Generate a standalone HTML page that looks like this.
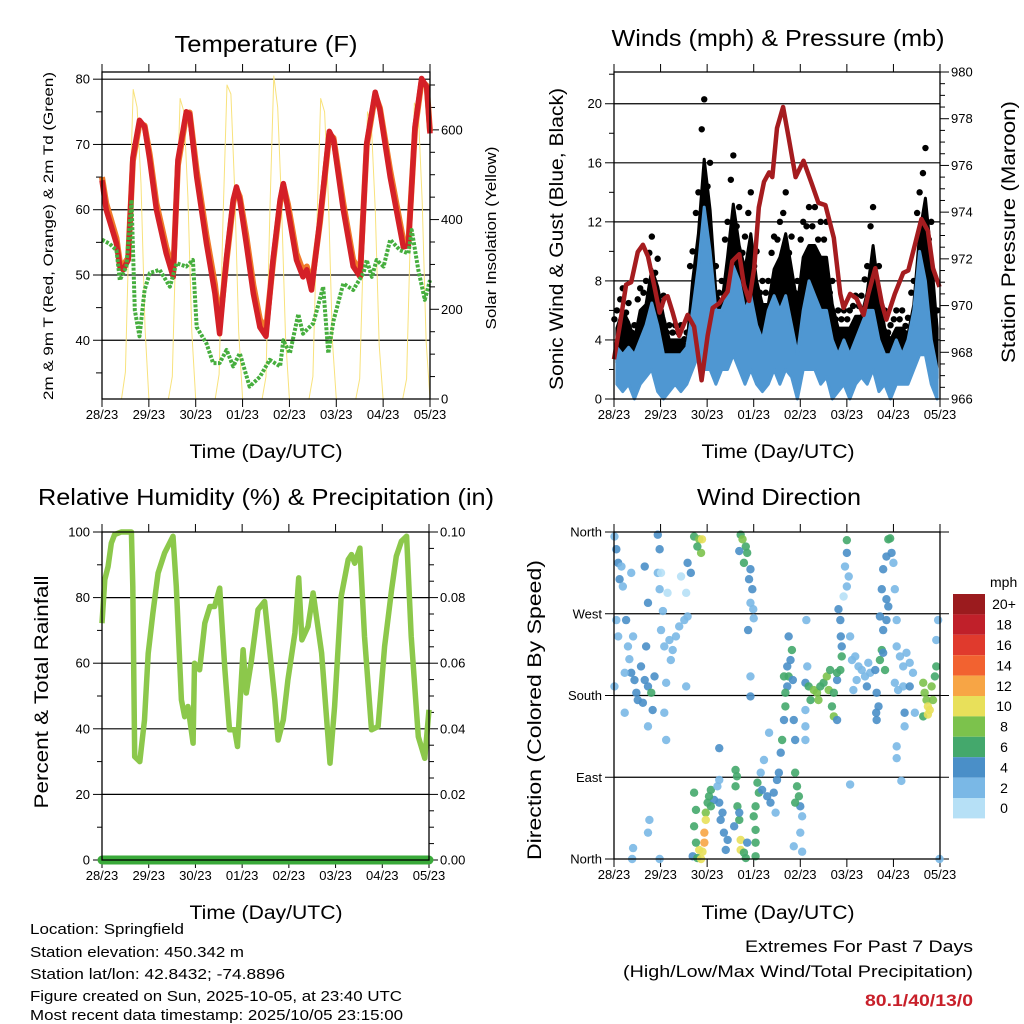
<!DOCTYPE html>
<html><head><meta charset="utf-8">
<style>
html,body{margin:0;padding:0;background:#fff;}
svg{display:block;font-family:"Liberation Sans",Arial,sans-serif;}
</style></head>
<body>
<svg id="chart" width="1024" height="1024" viewBox="0 0 1024 1024" xmlns="http://www.w3.org/2000/svg">
<rect x="0" y="0" width="1024" height="1024" fill="#fff"/>
<text x="266" y="52" font-size="23" text-anchor="middle" textLength="183" lengthAdjust="spacingAndGlyphs">Temperature (F)</text>
<text x="778" y="46" font-size="23" text-anchor="middle" textLength="333" lengthAdjust="spacingAndGlyphs">Winds (mph) &amp; Pressure (mb)</text>
<text x="266" y="505" font-size="23" text-anchor="middle" textLength="456" lengthAdjust="spacingAndGlyphs">Relative Humidity (%) &amp; Precipitation (in)</text>
<text x="779" y="505" font-size="23" text-anchor="middle" textLength="164" lengthAdjust="spacingAndGlyphs">Wind Direction</text>
<text x="266" y="458" font-size="19" text-anchor="middle" textLength="153" lengthAdjust="spacingAndGlyphs">Time (Day/UTC)</text>
<text x="778" y="458" font-size="19" text-anchor="middle" textLength="153" lengthAdjust="spacingAndGlyphs">Time (Day/UTC)</text>
<text x="266" y="919" font-size="19" text-anchor="middle" textLength="153" lengthAdjust="spacingAndGlyphs">Time (Day/UTC)</text>
<text x="778" y="919" font-size="19" text-anchor="middle" textLength="153" lengthAdjust="spacingAndGlyphs">Time (Day/UTC)</text>
<text transform="translate(53,236) rotate(-90)" font-size="14" text-anchor="middle" textLength="328" lengthAdjust="spacingAndGlyphs">2m &amp; 9m T (Red, Orange) &amp; 2m Td (Green)</text>
<text transform="translate(496,238) rotate(-90)" font-size="15" text-anchor="middle" textLength="183" lengthAdjust="spacingAndGlyphs">Solar Insolation (Yellow)</text>
<text transform="translate(563,239) rotate(-90)" font-size="19" text-anchor="middle" textLength="302" lengthAdjust="spacingAndGlyphs">Sonic Wind &amp; Gust (Blue, Black)</text>
<text transform="translate(1015,232) rotate(-90)" font-size="19" text-anchor="middle" textLength="262" lengthAdjust="spacingAndGlyphs">Station Pressure (Maroon)</text>
<text transform="translate(48,692) rotate(-90)" font-size="19" text-anchor="middle" textLength="233" lengthAdjust="spacingAndGlyphs">Percent &amp; Total Rainfall</text>
<text transform="translate(541,710) rotate(-90)" font-size="19" text-anchor="middle" textLength="300" lengthAdjust="spacingAndGlyphs">Direction (Colored By Speed)</text>
<g font-size="15">
<text x="30" y="934" textLength="154" lengthAdjust="spacingAndGlyphs">Location: Springfield</text>
<text x="30" y="957" textLength="214" lengthAdjust="spacingAndGlyphs">Station elevation: 450.342 m</text>
<text x="30" y="979" textLength="255" lengthAdjust="spacingAndGlyphs">Station lat/lon: 42.8432; -74.8896</text>
<text x="30" y="1001" textLength="372" lengthAdjust="spacingAndGlyphs">Figure created on Sun, 2025-10-05, at 23:40 UTC</text>
<text x="30" y="1020" textLength="373" lengthAdjust="spacingAndGlyphs">Most recent data timestamp: 2025/10/05 23:15:00</text>
</g>
<text x="973" y="952" font-size="17" text-anchor="end" textLength="228" lengthAdjust="spacingAndGlyphs">Extremes For Past 7 Days</text>
<text x="973" y="977" font-size="17" text-anchor="end" textLength="350" lengthAdjust="spacingAndGlyphs">(High/Low/Max Wind/Total Precipitation)</text>
<text x="973" y="1006" font-size="17" font-weight="bold" fill="#c8202a" text-anchor="end" textLength="108" lengthAdjust="spacingAndGlyphs">80.1/40/13/0</text>
<g id="layer"></g>
</svg>
<script>
const dayLabels = ["28/23","29/23","30/23","01/23","02/23","03/23","04/23","05/23"];
const tempDays  = [0,0.09,0.31,0.38,0.45,0.56,0.66,0.80,0.91,1.02,1.16,1.37,1.52,1.62,1.80,1.87,2.02,2.23,2.41,2.51,2.66,2.80,2.87,2.94,3.08,3.23,3.37,3.50,3.65,3.80,3.87,3.97,4.15,4.29,4.37,4.47,4.65,4.85,4.94,5.15,5.36,5.51,5.65,5.83,5.93,6.15,6.43,6.54,6.68,6.82,6.93,7.0];
const temp2m    = [64.5,60,54.8,51.3,50.8,52.3,68,73.7,72.7,67.6,60,53.3,49.7,67.6,75,74.7,65,54.8,47.2,41,52.8,61.5,63.5,61.5,54.8,47.2,42,40.6,52.3,61.5,64,60,52.3,49.7,50.8,47.7,58.4,72,70.7,60,51.3,49.7,70.2,78,75.3,65,54.3,54.5,72.7,80.1,78.8,71.7];
const temp9m    = [65,61,55.6,52,51.5,52.6,67.5,73.2,72.9,68.4,61,54.3,50.5,66.8,74.6,74.9,66,56,48.6,42.3,52.3,61,63.2,62,56,48.5,43.2,41.6,51.8,61,63.8,60.8,53.3,50.6,51.3,48.3,58,71.6,71,61,52.3,50.5,69.8,77.6,75.6,66,55.3,55,72.3,79.7,79,72];
const dewDays   = [0,0.16,0.31,0.38,0.52,0.63,0.70,0.80,0.91,1.02,1.23,1.45,1.59,1.80,1.94,2.02,2.23,2.37,2.51,2.66,2.80,2.94,3.15,3.37,3.58,3.80,3.87,4.01,4.19,4.29,4.51,4.72,4.83,4.94,5.15,5.36,5.58,5.65,5.76,5.86,6.01,6.15,6.36,6.54,6.61,6.75,6.89,7.0];
const dew2m     = [55.4,54.8,53.8,49.2,51.3,61.5,44.6,40.6,47.7,50.3,50.8,48.2,51.8,51.3,52.3,42,39.5,36.5,36.5,38.5,36,38,32.9,34.4,37,36,40,38,44,41,42.6,48.2,38,43,48.7,47.7,50.3,52.3,49.7,52.3,51.3,55.4,53.8,53.3,56.9,50.8,46.2,49.2];
const solar = [
 0,0,0,0,0,0,60,400,690,650,480,160,
 0,0,0,0,0,0,50,380,670,640,450,150,
 0,0,0,0,0,0,55,400,700,680,460,150,
 0,0,0,0,0,0,50,420,720,650,430,140,
 0,0,0,0,0,0,50,380,670,640,440,130,
 0,0,0,0,0,0,45,350,640,610,420,120,
 0,0,0,0,0,0,45,380,660,640,440,130,0];
const tempTicks  = [40,50,60,70,80];
const solarTicks = [0,200,400,600];
const windLow  = [1,0.5,1,0,1,1.5,2,0.5, 0,0.5,1,0.5,1,2,3,2, 2,1,2,2,3,2,1,2, 1,0.5,1,2,1,2,1.5,0, 2,2,2,1,1.5,0,0.5,1, 0,1,1.5,1,2,0.5,1,0, 1,1,1,2,3,3,1,0];
const windHigh = [3.5,3,3.5,3,4,5,6.5,5, 3,3,3,3,3.5,6,9,13, 10,6,6,7,9,8,6,7, 5,4,6,7,6,7,5,3, 6,8,7,6,6,4,3,4, 3,4,5,6,6,4,3,3, 4,3,4,6,10,8,4,2];
const gustHigh = [6,7.5,6.5,5,7.5,8,11,9.5, 7,5,5,5,4.5,10,14,20.3, 16,9,8,12,16.5,13,11,14, 10,8,8,11,12,14,11,8, 12,13,13,12,12,8,6,6, 6,7,7,9,13,9,6,5, 6,6,5.5,8,14,17,12,6];
const presDays = [0,0.12,0.26,0.37,0.51,0.62,0.73,0.87,0.98,1.08,1.15,1.26,1.40,1.58,1.72,1.88,2.01,2.12,2.26,2.44,2.54,2.69,2.79,2.90,3.01,3.11,3.22,3.33,3.40,3.50,3.63,3.75,3.90,4.07,4.25,4.39,4.54,4.72,4.86,4.93,5.07,5.21,5.36,5.46,5.61,5.75,5.85,6.03,6.21,6.32,6.46,6.60,6.74,6.85,6.99];
const pressure = [967.7,969.1,970.9,971.0,972.3,972.6,972.1,970.8,969.7,970.3,970.4,969.7,968.7,969.6,969.1,966.8,968.7,969.9,970.1,970.6,971.9,972.2,970.9,970.2,971.6,974.2,975.3,975.7,975.5,977.6,978.5,977.2,975.5,976.2,975.2,974.4,974.3,972.9,970.5,969.9,970.5,970.3,969.6,970.5,971.6,970.1,969.4,970.5,971.4,971.5,972.6,973.7,973.2,971.6,970.8];
const windTicks = [0,4,8,12,16,20];
const presTicks = [966,968,970,972,974,976,978,980];
const rhDays = [0,0.06,0.13,0.2,0.27,0.41,0.63,0.66,0.70,0.81,0.91,0.99,1.09,1.2,1.34,1.52,1.59,1.70,1.77,1.84,1.95,1.98,2.09,2.2,2.31,2.41,2.52,2.63,2.73,2.84,2.9,3.02,3.09,3.2,3.34,3.48,3.7,3.77,3.88,3.98,4.13,4.21,4.28,4.41,4.52,4.7,4.88,4.98,5.12,5.27,5.34,5.41,5.52,5.62,5.77,5.91,6.05,6.2,6.3,6.41,6.52,6.62,6.77,6.91,7.0];
const rh = [72.2,85.5,89.5,96.6,99.2,100,100,83.4,31.5,30,42.7,63,75.3,87.5,93.6,98.7,83.4,48.8,43.7,46.8,35.6,60,58,72.2,77.3,77.3,82.9,58,39.7,39.7,34.6,64.1,50.9,61,76.3,78.8,48.8,36.6,42.7,54.9,69.2,86,67.1,71.2,81.4,63.1,29.5,46.8,80.4,91.6,93.1,90.5,95.1,68.2,39.7,40.7,65.1,82.4,92.6,97.2,98.7,68.2,37.6,31,45.8];
const precipDays = [0,7];
const precip = [0,0];
const rhTicks = [0,20,40,60,80,100];
const precipTicks = ["0.00","0.02","0.04","0.06","0.08","0.10"];
const dirDays = [0.01,0.05,0.09,0.12,0.16,0.19,0.05,0.09,0.01,0.26,0.30,0.33,0.37,0.44,0.48,0.51,0.41,0.23,0.23,0.58,0.66,0.73,0.80,0.87,0.69,0.62,0.83,0.73,0.66,0.73,0.37,0.94,0.98,0.94,0.98,1.05,1.12,1.08,1.12,1.01,1.08,1.19,1.26,1.33,1.40,1.51,1.58,1.22,1.01,1.15,1.44,1.55,1.55,1.58,1.65,1.72,1.83,1.89,1.87,1.79,1.72,1.76,1.72,1.97,1.97,2.01,1.94,1.94,1.83,1.90,1.76,1.69,1.79,1.87,2.08,2.15,2.22,2.26,2.29,2.36,2.33,2.44,2.40,2.26,2.04,2.08,2.61,2.64,2.61,2.65,2.69,2.72,2.72,2.79,2.83,2.69,2.58,3.04,3.04,3.04,2.86,3.00,2.72,2.76,2.83,2.86,2.93,2.90,2.97,2.93,2.99,3.00,2.69,2.79,2.88,2.93,3.08,3.11,3.18,3.29,3.36,3.43,3.50,3.15,3.22,3.33,3.04,3.47,3.54,3.58,3.61,3.65,3.68,3.72,3.75,3.72,3.79,3.75,3.82,3.68,3.86,3.89,3.65,3.84,3.89,3.93,3.97,4.00,4.04,4.00,4.04,3.86,3.89,4.11,4.18,4.29,4.36,4.43,4.50,4.57,4.61,4.72,4.79,4.86,4.89,4.72,4.68,4.79,4.15,4.11,4.11,4.11,4.22,4.39,4.64,4.79,4.82,4.86,4.87,4.89,4.93,5.00,5.00,5.00,4.96,5.04,5.07,5.07,4.13,2.93,5.11,5.18,5.25,5.32,5.39,5.46,5.43,5.50,5.21,5.14,5.61,5.64,5.68,5.71,5.75,5.78,5.82,5.71,5.78,5.85,5.85,5.75,5.78,5.85,5.89,5.93,5.96,6.00,6.03,5.89,5.64,5.63,6.07,6.14,6.21,6.28,6.35,6.42,6.21,6.10,6.03,6.35,6.24,6.24,6.07,6.07,6.17,6.46,6.07,6.64,6.67,6.71,6.74,6.78,6.85,6.82,6.89,6.92,6.64,6.74,6.92,6.96,6.99,0.76,0.73,0.41,0.39,0.98,2.26];
const dirDegs = [355,341,326,308,322,300,263,245,190,263,234,220,205,197,183,175,245,205,161,212,197,190,183,201,234,172,164,146,322,282,315,357,341,315,297,273,194,161,131,252,234,241,230,245,256,263,267,219,315,293,311,293,190,326,315,355,352,352,337,344,73,54,36,51,43,62,29,18,10,8,18,3,1,0,76,65,80,87,43,29,51,21,10,62,69,58,98,91,80,58,43,21,10,7,1,51,36,32,18,3,18,47,357,352,344,337,319,308,297,282,275,265,339,326,252,179,84,73,76,69,62,73,87,95,109,139,58,51,95,117,131,153,168,190,201,212,219,245,230,183,153,131,201,197,95,80,69,58,47,29,8,14,62,194,190,186,183,190,194,201,186,183,197,208,223,157,168,153,212,164,146,131,175,175,208,205,275,263,245,234,289,300,337,351,322,311,245,82,263,201,219,223,212,208,201,216,190,205,197,186,208,183,168,219,230,227,208,267,252,263,286,297,319,333,352,353,337,326,297,278,153,161,234,223,212,227,216,205,190,186,194,190,161,146,124,111,86,161,263,194,183,175,168,164,175,190,201,212,157,159,241,263,0,43,29,12,0,0,122];
const dirSpeeds = [2,4,4,4,2,2,2,2,2,4,2,2,4,4,4,4,2,2,2,4,4,4,6,4,4,4,4,2,4,4,2,4,4,2,2,2,2,2,2,2,2,2,2,2,2,2,2,2,0,0,0,0,2,4,4,6,8,10,8,6,6,6,6,8,10,6,12,12,10,10,6,4,6,10,6,4,2,2,4,4,4,4,4,4,6,6,6,6,6,6,6,10,10,6,6,4,4,6,6,6,4,6,6,8,6,6,4,4,4,2,2,2,4,6,4,4,6,6,4,4,4,4,4,2,2,2,6,2,4,4,6,4,6,4,6,4,4,4,6,6,4,4,6,4,6,6,6,4,2,2,2,2,6,4,6,8,8,6,6,8,8,6,4,6,6,8,6,4,2,2,2,2,6,8,6,6,4,4,4,4,0,2,4,6,2,2,2,2,2,2,2,2,2,2,2,2,4,2,2,2,4,4,4,6,6,4,6,4,4,4,4,4,4,4,6,6,4,2,2,4,4,4,2,2,2,2,2,2,2,2,2,4,4,2,2,2,2,2,2,8,8,8,10,10,8,8,6,6,6,10,2,2,2,2,2,2,2,2,4];
const speedBins   = ["0","2","4","6","8","10","12","14","16","18","20+"];
const speedColors = ["#b6e0f6","#7ab8e6","#4a8fc8","#44a86c","#7cc24c","#e8e05a","#f7a545","#f26230","#e03a2d","#c0202a","#9b1b1e"];
const dirTicks = [0,90,180,270,360];
const dirLabels = ["North","East","South","West","North"];

const NS = "http://www.w3.org/2000/svg";
const layer = document.getElementById("layer");
function mk(tag, attrs, parent) {
  const el = document.createElementNS(NS, tag);
  for (const k in attrs) el.setAttribute(k, attrs[k]);
  (parent || layer).appendChild(el);
  return el;
}
const P1 = {x0:102, x1:430, y0:72, y1:399};
const P2 = {x0:614, x1:940, y0:72, y1:399};
const P3 = {x0:102, x1:429, y0:532, y1:860};
const P4 = {x0:614, x1:940, y0:532, y1:859};
function xDay(P, d) { return P.x0 + (P.x1 - P.x0) * d / 7; }
const yTemp  = v => P1.y1 - (v - 31) * (P1.y1 - P1.y0) / (81.1 - 31);
const ySolar = v => P1.y1 - v * (P1.y1 - P1.y0) / 729;
const yWind  = v => P2.y1 - v * (P2.y1 - P2.y0) / 22.15;
const yPres  = v => P2.y1 - (v - 966) * (P2.y1 - P2.y0) / 14;
const yRH    = v => P3.y1 - v * (P3.y1 - P3.y0) / 100;
const yPrecip= v => P3.y1 - v * (P3.y1 - P3.y0) / 0.1;
const yDir   = v => P4.y1 - v * (P4.y1 - P4.y0) / 360;
function pathFrom(xs, ys) {
  let s = "";
  for (let i = 0; i < xs.length; i++) s += (i ? "L" : "M") + xs[i].toFixed(1) + "," + ys[i].toFixed(1);
  return s;
}
function areaFrom(xs, yTop, yBot) {
  let s = pathFrom(xs, yTop);
  for (let i = xs.length - 1; i >= 0; i--) s += "L" + xs[i].toFixed(1) + "," + yBot[i].toFixed(1);
  return s + "Z";
}
function grid(P, y, name) {
  const l = mk("line", {x1:P.x0, x2:P.x1, y1:y, y2:y, stroke:"#000", "stroke-width":1.2});
  
  
}
function leftTick(P, y, label, name, len) {
  const t = mk("line", {x1:P.x0 - len, x2:P.x0, y1:y, y2:y, stroke:"#000", "stroke-width":1});
  
  
  if (label !== null) {
    const tx = mk("text", {x:P.x0 - 12, y:y + 4.5, "font-size":13, "text-anchor":"end"});
    tx.textContent = label;
    
    
  }
}
function rightTick(P, y, label, name, len) {
  const t = mk("line", {x1:P.x1, x2:P.x1 + len, y1:y, y2:y, stroke:"#000", "stroke-width":1});
  
  
  if (label !== null) {
    const tx = mk("text", {x:P.x1 + 11, y:y + 4.5, "font-size":13, "text-anchor":"start"});
    tx.textContent = label;
    
    
  }
}
function timeAxis(P, prefix) {
  for (let i = 0; i < dayLabels.length; i++) {
    const x = xDay(P, i);
    const b = mk("line", {x1:x, x2:x, y1:P.y1, y2:P.y1 + 8, stroke:"#000", "stroke-width":1});
    
    
    const t = mk("line", {x1:x, x2:x, y1:P.y0 - 8, y2:P.y0, stroke:"#000", "stroke-width":1});
    
    
    const tx = mk("text", {x:x, y:P.y1 + 20, "font-size":13, "text-anchor":"middle"});
    tx.textContent = dayLabels[i];
    
    
  }
}
function frame(P, name) {
  const r = mk("rect", {x:P.x0, y:P.y0, width:P.x1 - P.x0, height:P.y1 - P.y0, fill:"none", stroke:"#000", "stroke-width":1.3});
  
  
}

// panel 1
tempTicks.forEach(v => grid(P1, yTemp(v), 'temperature-gridline'));
for (let v = 35; v <= 80; v += 5) leftTick(P1, yTemp(v), v % 10 === 0 ? String(v) : null, 'temperature-y', v % 10 === 0 ? 9 : 6);
for (let v = 0; v <= 700; v += 50) rightTick(P1, ySolar(v), solarTicks.includes(v) ? String(v) : null, 'solar-y', v % 200 === 0 ? 9 : 5);
timeAxis(P1, 'temperature');
{
  const xs = solar.map((v, i) => xDay(P1, i / 12));
  const s = mk("path", {d:pathFrom(xs, solar.map(ySolar)), fill:"none", stroke:"#f8e27c", "stroke-width":1, "stroke-linejoin":"round"});
  
  
  const o = mk("path", {d:pathFrom(tempDays.map(d => xDay(P1, d)), temp9m.map(yTemp)), fill:"none", stroke:"#f07a2a", "stroke-width":6, "stroke-linejoin":"round"});
  
  
  const r = mk("path", {d:pathFrom(tempDays.map(d => xDay(P1, d)), temp2m.map(yTemp)), fill:"none", stroke:"#d42027", "stroke-width":5.5, "stroke-linejoin":"round"});
  
  
  const g = mk("path", {d:pathFrom(dewDays.map(d => xDay(P1, d)), dew2m.map(yTemp)), fill:"none", stroke:"#46ae3e", "stroke-width":4, "stroke-dasharray":"3 1.5", "stroke-linejoin":"round"});
  
  
}
frame(P1, 'temperature-plot-frame');

// panel 2
windTicks.forEach(v => { if (v > 0) grid(P2, yWind(v), 'wind-gridline'); });
for (let v = 0; v <= 22; v += 2) leftTick(P2, yWind(v), windTicks.includes(v) ? String(v) : null, 'wind-y', v % 4 === 0 ? 9 : 5);
for (let v = 966; v <= 980; v += 0.5) rightTick(P2, yPres(v), presTicks.includes(v) ? String(v) : null, 'pressure-y', v % 2 === 0 ? 9 : 5);
timeAxis(P2, 'winds');
{
  const xs = gustHigh.map((g, i) => xDay(P2, (i + 0.5) / 8));
  const gTop = gustHigh.map(g => yWind(g * 0.8));
  const gBot = windHigh.map(w => yWind(w * 0.7));
  const ga = mk("path", {d:areaFrom(xs, gTop, gBot), fill:"#000", stroke:"#000", "stroke-width":3, "stroke-linejoin":"round"});
  
  
  for (let i = 0; i < gustHigh.length; i++) {
    const dot = mk("circle", {cx:xs[i], cy:yWind(gustHigh[i]), r:3.2, fill:"#000"});
    
    
    const dot2 = mk("circle", {cx:xs[i] - 2.5, cy:yWind(gustHigh[i] * 0.9), r:3.2, fill:"#000"});
    
    
  }
  const wa = mk("path", {d:areaFrom(xs, windHigh.map(yWind), windLow.map(yWind)), fill:"#4f97d2", stroke:"#4f97d2", "stroke-width":3, "stroke-linejoin":"round"});
  
  
  const p = mk("path", {d:pathFrom(presDays.map(d => xDay(P2, d)), pressure.map(yPres)), fill:"none", stroke:"#a51c1f", "stroke-width":4.5, "stroke-linejoin":"round"});
  
  
}
frame(P2, 'winds-plot-frame');

// panel 3
rhTicks.forEach(v => { if (v > 0 && v < 100) grid(P3, yRH(v), 'humidity-gridline'); });
for (let v = 0; v <= 100; v += 10) leftTick(P3, yRH(v), v % 20 === 0 ? String(v) : null, 'humidity-y', v % 20 === 0 ? 9 : 5);
for (let v = 0; v <= 100; v += 5) rightTick(P3, yRH(v), v % 20 === 0 ? precipTicks[v / 20] : null, 'precip-y', v % 20 === 0 ? 9 : 5);
timeAxis(P3, 'humidity');
{
  const h = mk("path", {d:pathFrom(rhDays.map(d => xDay(P3, d)), rh.map(yRH)), fill:"none", stroke:"#8cc84b", "stroke-width":5.5, "stroke-linejoin":"round"});
  
  
  const pr = mk("path", {d:pathFrom(precipDays.map(d => xDay(P3, d)), precip.map(yPrecip)), fill:"none", stroke:"#3aaa3a", "stroke-width":9, "stroke-linecap":"round"});
  
  
}
frame(P3, 'humidity-plot-frame');

// panel 4
dirTicks.forEach(v => { if (v > 0 && v < 360) grid(P4, yDir(v), 'direction-gridline'); });
for (let i = 0; i < dirTicks.length; i++) {
  const y = yDir(dirTicks[i]);
  const t = mk("line", {x1:P4.x0 - 9, x2:P4.x0, y1:y, y2:y, stroke:"#000", "stroke-width":1});
  
  
  const t2 = mk("line", {x1:P4.x1, x2:P4.x1 + 9, y1:y, y2:y, stroke:"#000", "stroke-width":1});
  
  
  const tx = mk("text", {x:P4.x0 - 12, y:y + 4.5, "font-size":13, "text-anchor":"end"});
  tx.textContent = dirLabels[i];
  
  
}
timeAxis(P4, 'direction');
for (let i = 0; i < dirDays.length; i++) {
  const ci = Math.min(10, Math.round(dirSpeeds[i] / 2));
  const c = mk("circle", {cx:xDay(P4, dirDays[i]), cy:yDir(dirDegs[i]), r:4.2, fill:speedColors[ci], "fill-opacity":0.9});
  
  
}
frame(P4, 'direction-plot-frame');

{
  const cbTitle = mk("text", {x:990, y:587, "font-size":14, "text-anchor":"start"});
  cbTitle.textContent = "mph";
  
  
  const top = 594, h = 20.4;
  for (let i = 0; i < speedBins.length; i++) {
    const k = speedBins.length - 1 - i;
    const r = mk("rect", {x:953, y:top + i * h, width:32, height:h, fill:speedColors[k]});
    
    
    const t = mk("text", {x:1004, y:top + i * h + h / 2 + 5, "font-size":14, "text-anchor":"middle"});
    t.textContent = speedBins[k];
    
    
  }
}
</script>
</body></html>
